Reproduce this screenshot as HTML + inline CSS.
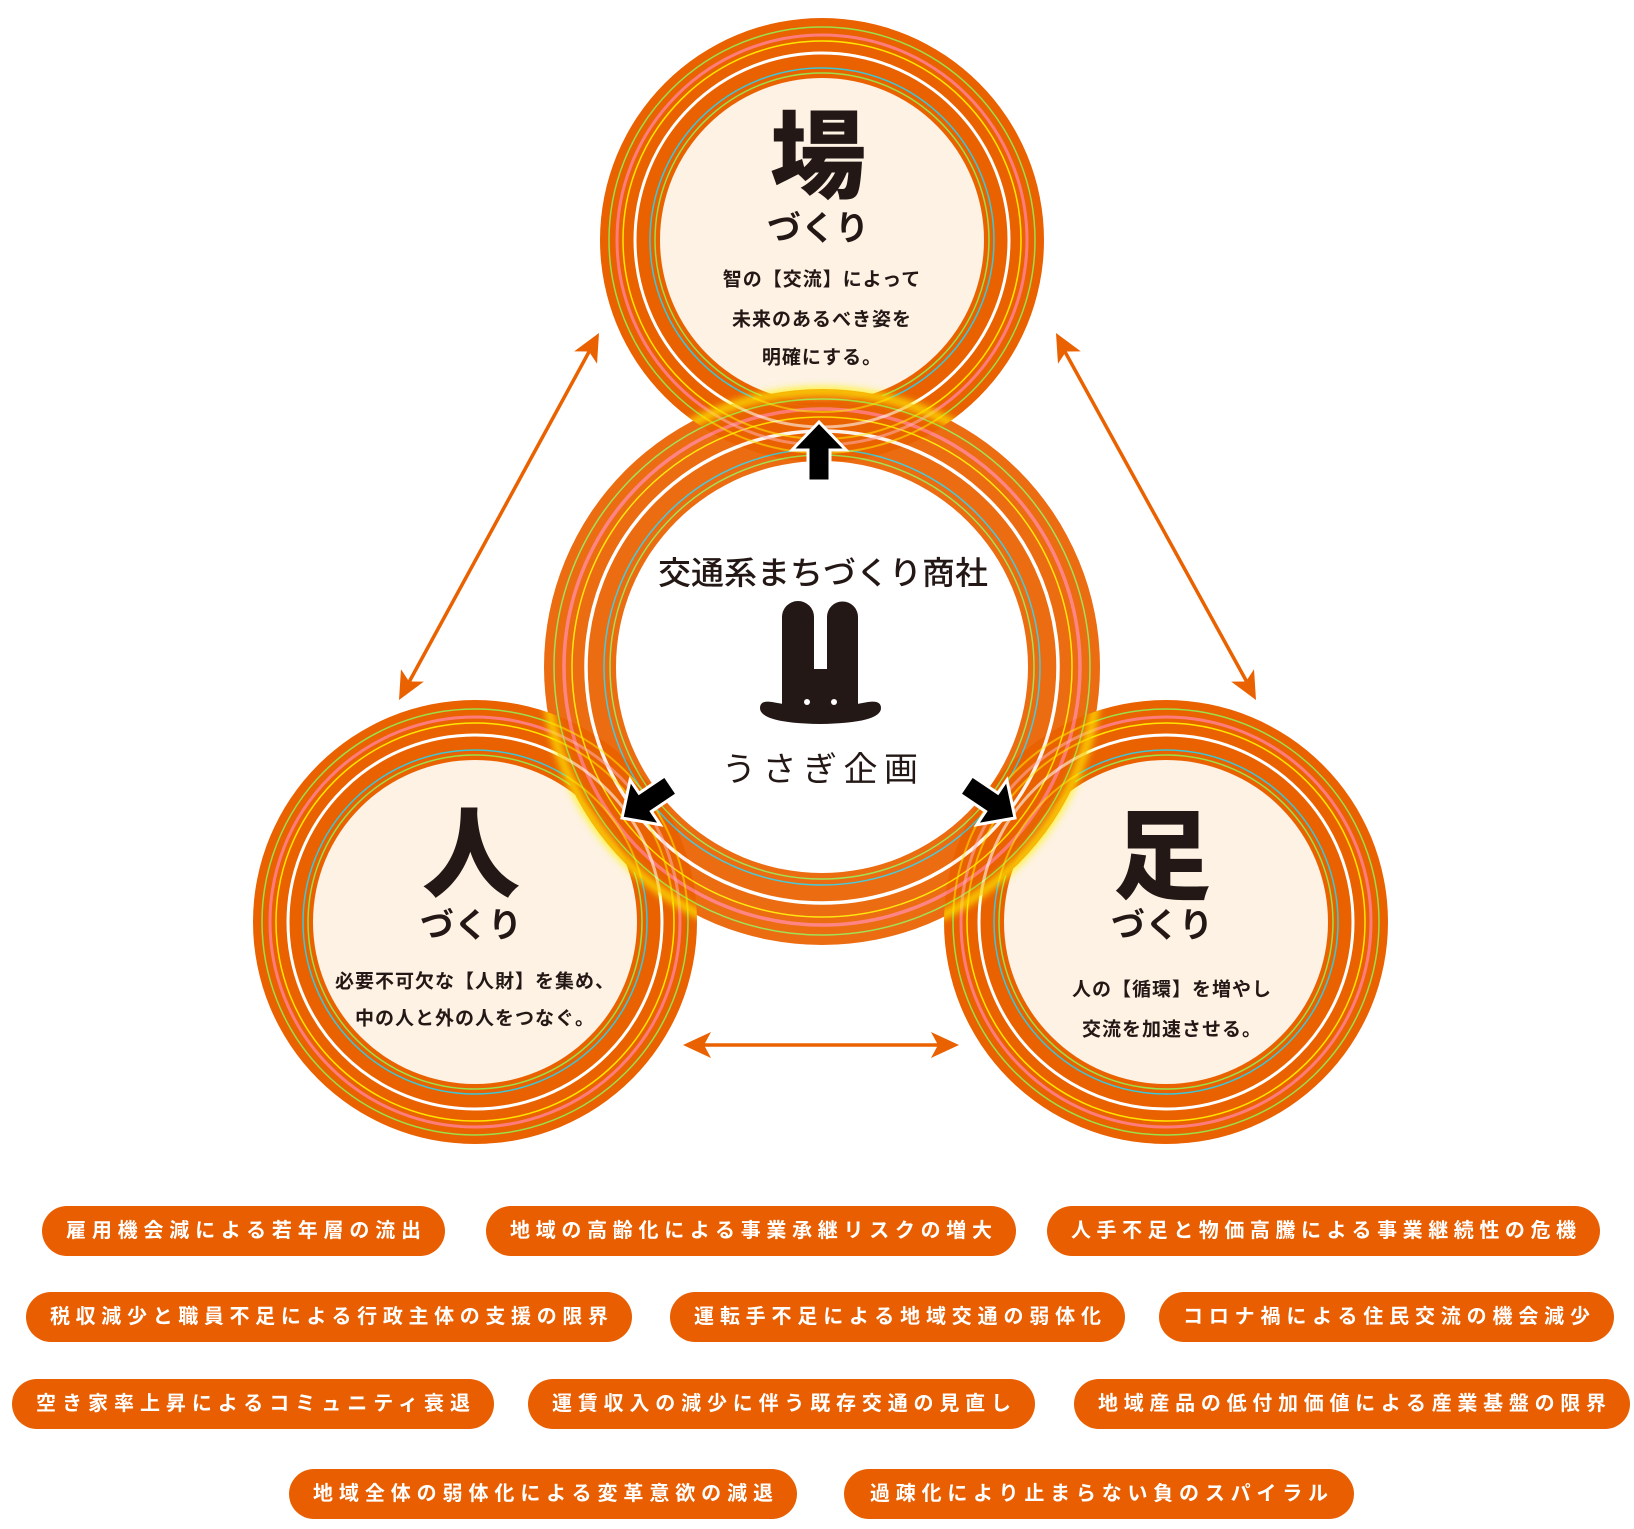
<!DOCTYPE html>
<html><head><meta charset="utf-8"><style>
html,body{margin:0;padding:0;background:#fff;}
svg{display:block;}
text{font-family:"Liberation Sans","Noto Sans CJK JP",sans-serif;}
</style></head><body>
<svg width="1634" height="1529" viewBox="0 0 1634 1529" xmlns="http://www.w3.org/2000/svg">
<defs>
<filter id="blur" x="-20%" y="-20%" width="140%" height="140%"><feGaussianBlur stdDeviation="4"/></filter>
<clipPath id="cT"><circle cx="822" cy="240" r="222"/></clipPath>
<clipPath id="cL"><circle cx="475" cy="922" r="222"/></clipPath>
<clipPath id="cR"><circle cx="1166" cy="922" r="222"/></clipPath>
<clipPath id="cC"><circle cx="822" cy="667" r="278"/></clipPath>
<g id="sat">
<circle r="222" fill="#EA6100"/>
<circle r="213" fill="none" stroke="#9BE04A" stroke-width="1.5"/>
<circle r="205" fill="none" stroke="#FF7C7C" stroke-width="3"/>
<circle r="199" fill="none" stroke="#FFE600" stroke-width="1.5"/>
<circle r="187" fill="none" stroke="#fff" stroke-width="3"/>
<circle r="172" fill="none" stroke="#3CC8D8" stroke-width="1.5"/>
<circle r="167" fill="none" stroke="#9BE04A" stroke-width="1.5"/>
<circle r="162" fill="#FDF2E3"/>
</g>
<g id="arr"><polygon points="0,0 -28,-27 -28,-11 -59,-11 -59,11 -28,11 -28,27" fill="#000" stroke="#fff" stroke-width="3" stroke-linejoin="miter"/></g>
<g id="oh"><polygon points="0,0 -28,-13 -21,0 -28,13" fill="#EA6100"/></g>
</defs>

<use href="#sat" x="822" y="240"/>
<use href="#sat" x="475" y="922"/>
<use href="#sat" x="1166" y="922"/>

<g opacity="0.93">
<circle cx="822" cy="667" r="278" fill="#EA6100"/>
<circle cx="822" cy="667" r="268" fill="none" stroke="#9BE04A" stroke-width="1.5"/>
<circle cx="822" cy="667" r="258" fill="none" stroke="#FF7C7C" stroke-width="3.5"/>
<circle cx="822" cy="667" r="250" fill="none" stroke="#FFE600" stroke-width="1.5"/>
<circle cx="822" cy="667" r="236" fill="none" stroke="#fff" stroke-width="3.5"/>
<circle cx="822" cy="667" r="218" fill="none" stroke="#3CC8D8" stroke-width="1.5"/>
<circle cx="822" cy="667" r="212" fill="none" stroke="#9BE04A" stroke-width="1.5"/>
</g>
<g clip-path="url(#cC)" opacity="0.55">
<g transform="translate(822,240)"><circle r="213" fill="none" stroke="#FFE600" stroke-width="2"/><circle r="205" fill="none" stroke="#FFB0B0" stroke-width="3"/><circle r="199" fill="none" stroke="#FFE600" stroke-width="2"/><circle r="187" fill="none" stroke="#fff" stroke-width="3"/><circle r="172" fill="none" stroke="#FFE600" stroke-width="2"/></g>
<g transform="translate(475,922)"><circle r="213" fill="none" stroke="#FFE600" stroke-width="2"/><circle r="205" fill="none" stroke="#FFB0B0" stroke-width="3"/><circle r="199" fill="none" stroke="#FFE600" stroke-width="2"/><circle r="187" fill="none" stroke="#fff" stroke-width="3"/><circle r="172" fill="none" stroke="#FFE600" stroke-width="2"/></g>
<g transform="translate(1166,922)"><circle r="213" fill="none" stroke="#FFE600" stroke-width="2"/><circle r="205" fill="none" stroke="#FFB0B0" stroke-width="3"/><circle r="199" fill="none" stroke="#FFE600" stroke-width="2"/><circle r="187" fill="none" stroke="#fff" stroke-width="3"/><circle r="172" fill="none" stroke="#FFE600" stroke-width="2"/></g>
</g>
<g opacity="0.85">
<g clip-path="url(#cT)"><circle cx="822" cy="667" r="276" fill="none" stroke="#FFF200" stroke-width="8" filter="url(#blur)"/></g>
<g clip-path="url(#cL)"><circle cx="822" cy="667" r="276" fill="none" stroke="#FFF200" stroke-width="8" filter="url(#blur)"/></g>
<g clip-path="url(#cR)"><circle cx="822" cy="667" r="276" fill="none" stroke="#FFF200" stroke-width="8" filter="url(#blur)"/></g>
</g>
<circle cx="822" cy="667" r="206" fill="#fff"/>

<use href="#arr" transform="translate(819,422) rotate(-90)"/>
<use href="#arr" transform="translate(622,818) rotate(146)"/>
<use href="#arr" transform="translate(1015,818) rotate(34)"/>

<g stroke="#EA6100" stroke-width="3.5">
<line x1="590" y1="350" x2="408" y2="684"/>
<line x1="1064" y1="350" x2="1248" y2="684"/>
<line x1="700" y1="1045" x2="942" y2="1045"/>
</g>
<use href="#oh" transform="translate(599,333) rotate(-61.4)"/>
<use href="#oh" transform="translate(399,700) rotate(118.6)"/>
<use href="#oh" transform="translate(1056,333) rotate(-118.6)"/>
<use href="#oh" transform="translate(1256,700) rotate(61.4)"/>
<use href="#oh" transform="translate(683,1045) rotate(180)"/>
<use href="#oh" transform="translate(959,1045)"/>

<g fill="#231815" text-anchor="middle" dominant-baseline="central">
<text x="818" y="158" font-size="96" font-weight="900">場</text>
<text x="818" y="229" font-size="34" font-weight="700">づくり</text>
<text x="822" y="280" font-size="19" font-weight="700" letter-spacing="1">智の【交流】によって</text>
<text x="822" y="320" font-size="19" font-weight="700" letter-spacing="1">未来のあるべき姿を</text>
<text x="822" y="358" font-size="19" font-weight="700" letter-spacing="1">明確にする。</text>

<text x="471" y="855" font-size="98" font-weight="900">人</text>
<text x="471" y="926" font-size="34" font-weight="700">づくり</text>
<text x="475" y="982" font-size="19" font-weight="700" letter-spacing="1">必要不可欠な【人財】を集め、</text>
<text x="475" y="1019" font-size="19" font-weight="700" letter-spacing="1">中の人と外の人をつなぐ。</text>

<text x="1162" y="857" font-size="98" font-weight="900">足</text>
<text x="1162" y="926" font-size="34" font-weight="700">づくり</text>
<text x="1172" y="990" font-size="19" font-weight="700" letter-spacing="1">人の【循環】を増やし</text>
<text x="1172" y="1030" font-size="19" font-weight="700" letter-spacing="1">交流を加速させる。</text>

<text x="823" y="573" font-size="32" font-weight="500" textLength="330" lengthAdjust="spacingAndGlyphs">交通系まちづくり商社</text>
<text x="820" y="770" font-size="34" font-weight="400" textLength="196">うさぎ企画</text>
</g>

<g fill="#231815">
<path d="M782,617 a16,16 0 0 1 32,0 V669 H827 V617 a15.5,15.5 0 0 1 31,0 V708 H782 Z"/>
<path d="M760,708 Q760,700 772,702 Q820,712 868,702 Q881,700 881,708 Q881,723 820,724 Q760,723 760,708 Z"/>
</g>
<circle cx="807" cy="702" r="3" fill="#fff"/>
<circle cx="834" cy="702" r="3" fill="#fff"/>

<g fill="#E85E00">
<rect x="42" y="1206" width="403" height="50" rx="25"/>
<rect x="486" y="1206" width="530" height="50" rx="25"/>
<rect x="1047" y="1206" width="553" height="50" rx="25"/>
<rect x="26" y="1292" width="606" height="50" rx="25"/>
<rect x="670" y="1292" width="455" height="50" rx="25"/>
<rect x="1159" y="1292" width="455" height="50" rx="25"/>
<rect x="12" y="1379" width="482" height="50" rx="25"/>
<rect x="528" y="1379" width="507" height="50" rx="25"/>
<rect x="1074" y="1379" width="556" height="50" rx="25"/>
<rect x="289" y="1469" width="508" height="50" rx="25"/>
<rect x="844" y="1469" width="510" height="50" rx="25"/>
</g>
<g fill="#fff" font-size="20" font-weight="700" text-anchor="middle" dominant-baseline="central">
<text x="243.5" y="1231" textLength="355">雇用機会減による若年層の流出</text>
<text x="751" y="1231" textLength="482">地域の高齢化による事業承継リスクの増大</text>
<text x="1323.5" y="1231" textLength="505">人手不足と物価高騰による事業継続性の危機</text>
<text x="329" y="1317" textLength="558">税収減少と職員不足による行政主体の支援の限界</text>
<text x="897.5" y="1317" textLength="407">運転手不足による地域交通の弱体化</text>
<text x="1386.5" y="1317" textLength="407">コロナ禍による住民交流の機会減少</text>
<text x="253" y="1404" textLength="434">空き家率上昇によるコミュニティ衰退</text>
<text x="781.5" y="1404" textLength="459">運賃収入の減少に伴う既存交通の見直し</text>
<text x="1352" y="1404" textLength="508">地域産品の低付加価値による産業基盤の限界</text>
<text x="543" y="1494" textLength="460">地域全体の弱体化による変革意欲の減退</text>
<text x="1099" y="1494" textLength="458">過疎化により止まらない負のスパイラル</text>
</g>
</svg>
</body></html>
